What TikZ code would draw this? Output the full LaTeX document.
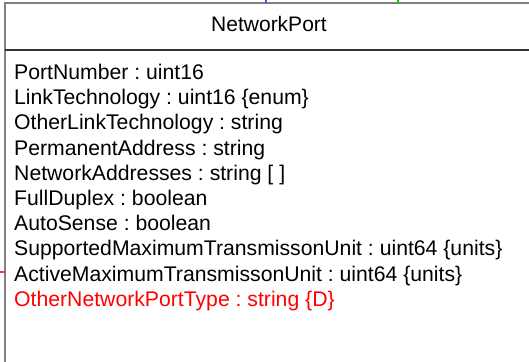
\documentclass[tikz,border=0pt]{standalone}
\usepackage{fontspec}
\setmainfont{Liberation Sans}
\usetikzlibrary{positioning}
\frenchspacing

\tikzset{
  attr/.style={anchor=base west, inner sep=0pt, font=\fontsize{21.2}{25}\selectfont},
  classname/.style={anchor=base, inner sep=0pt, font=\fontsize{21}{25}\selectfont}
}

\begin{document}
\begin{tikzpicture}[x=1pt,y=-1pt]
  \useasboundingbox (0,0) rectangle (529,361);
  % class box, cut by the page edge
  \draw[gray, line width=1.5pt] (5,380) -- (5,3) -- (540,3);
  \draw[black!80, line width=1.5pt] (5,50) -- (540,50);
  % stubs of links
  \coordinate (blueend) at (266,0);
  \coordinate (greenend) at (398,0);
  \coordinate (redend) at (0,272);
  \draw[blue!70, line width=1.2pt] (blueend) -- (266,3);
  \draw[green!80!black, line width=1.2pt] (greenend) -- (398,3);
  \draw[red!80, line width=1.2pt] (redend) -- (5,272);
  \node[classname] (title) at (269,32) {NetworkPort};
  \foreach \t [count=\i from 0] in {PortNumber : uint16,
      LinkTechnology : uint16 \{enum\},
      OtherLinkTechnology : string,
      PermanentAddress : string,
      NetworkAddresses : string [ ],
      FullDuplex : boolean,
      AutoSense : boolean,
      SupportedMaximumTransmissonUnit : uint64 \{units\},
      ActiveMaximumTransmissonUnit : uint64 \{units\}}
    \node[attr] (attr\i) at (14,79.5+25.2*\i) {\t};
  \node[attr, text=red] (attr9) at (14,79.5+25.2*9) {OtherNetworkPortType : string \{D\}};
\end{tikzpicture}
\end{document}
